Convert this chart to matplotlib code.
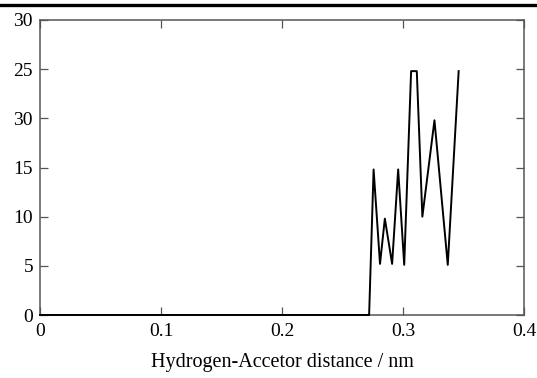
import numpy as np
import matplotlib.pyplot as plt
from matplotlib.lines import Line2D

plt.rcParams['font.family'] = ['Liberation Serif', 'DejaVu Serif']

# Data
distance = [0.0, 0.272, 0.2757, 0.281, 0.285, 0.291, 0.296, 0.301,
            0.3067, 0.3114, 0.316, 0.326, 0.337, 0.346]
count = [0, 0, 14.8, 5.2, 9.8, 5.2, 14.8, 5.1, 24.8, 24.8, 10.0, 19.8, 5.1, 24.8]

xticks = [0, 0.1, 0.2, 0.3, 0.4]
xtick_labels = ['0', '0.1', '0.2', '0.3', '0.4']
yticks = [0, 5, 10, 15, 20, 25, 30]
ytick_labels = ['0', '5', '10', '15', '30', '25', '30']  # as printed in the original

fig = plt.figure(figsize=(5.37, 3.78), dpi=100)
ax = fig.add_axes([40 / 537, 63 / 378, 484 / 537, 295 / 378])

ax.plot(distance, count, color='black', lw=1.4, clip_on=False, zorder=3)

ax.set_xlim(0, 0.4)
ax.set_ylim(0, 30)
ax.set_xticks(xticks)
ax.set_xticklabels(xtick_labels)
ax.set_yticks(yticks)
ax.set_yticklabels(ytick_labels)

ax.tick_params(direction='in', length=5.5, width=0.9, color='#555555',
               top=True, right=True, labelsize=14)
ax.tick_params(axis='x', pad=6)
ax.tick_params(axis='y', pad=5)
for s in ax.spines.values():
    s.set_color('#555555')
    s.set_linewidth(1.1)

ax.set_xlabel('Hydrogen-Accetor distance / nm', fontsize=14.5, labelpad=9)

# thick rule across the top of the figure
fig.add_artist(Line2D([0, 1], [0.986, 0.986], color='black', lw=2.4,
                      transform=fig.transFigure))

fig.savefig('out.png', dpi=100)
